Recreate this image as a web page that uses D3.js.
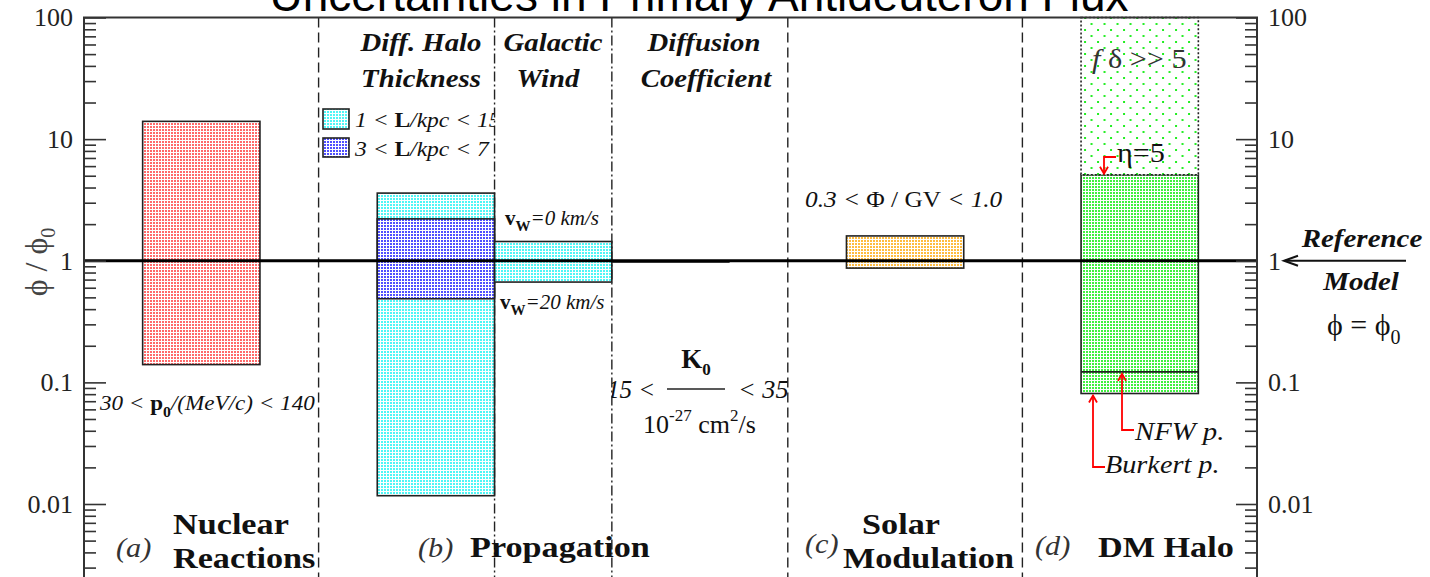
<!DOCTYPE html>
<html><head><meta charset="utf-8">
<script src="https://cdn.jsdelivr.net/npm/d3@7"></script>
<style>body{margin:0;background:#fff}svg{display:block}</style>
</head><body>
<svg id="c" width="1430" height="577"></svg>
<script>
// ---------------- DATA ----------------
const yMajorTicks = [0.01, 0.1, 1, 10, 100];
const yTickLabels = ["0.01", "0.1", "1", "10", "100"];
// uncertainty bands (x in category slot units 0..20)
const boxNames = ["Nuclear Reactions", "Halo 1<L<15", "Halo 3<L<7", "Galactic Wind",
                  "Diffusion Coefficient", "Solar Modulation", "DM Halo eta=5", "DM Halo f delta>>5"];
const boxX0 = [1, 5, 5, 7, 9, 13, 17, 17];
const boxX1 = [3, 7, 7, 9, 11, 15, 19, 19];
const boxLow = [0.14, 0.0117, 0.487, 0.668, 0.972, 0.87, 0.081, 5.1];
const boxHigh = [14, 3.6, 2.21, 1.44, 1.0, 1.6, 5.1, 100];
const nfwLevel = 0.122;       // NFW lower bound inside DM box
const separators = [4, 7, 9, 12, 16];
const referenceValue = 1;

// ---------------- STYLES ----------------
const SERIF = "'Liberation Serif','DejaVu Serif',serif";
const SANS = "'Liberation Sans',Arial,sans-serif";
const boxPattern = ["pRed", "pCyan", "pBlue", "pCyan", "solidBlack", "pOrange", "pGreen", "pGreenSparse"];
const sepDash = ["10,5", "10,3,2,3", "10,3,2,3", "10,5", "10,5"];

const svg = d3.select("#c");
svg.append("rect").attr("width", 1430).attr("height", 577).attr("fill", "#fff");

const x = d3.scaleLinear().domain([0, 20]).range([84, 1257]);
const y = d3.scaleLog().domain([0.01, 100]).range([504, 17.5]);
const yTop = y(100), yBot = 577;

// patterns
const defs = svg.append("defs");
function dotPattern(id, color, size, dot) {
  const p = defs.append("pattern").attr("id", id).attr("patternUnits", "userSpaceOnUse")
    .attr("width", size).attr("height", size);
  p.append("rect").attr("width", size).attr("height", size).attr("fill", "#fff");
  p.append("rect").attr("width", dot).attr("height", dot).attr("fill", color)
    .attr("shape-rendering", "crispEdges");
  return p;
}
dotPattern("pRed", "#ff6a6a", 3, 2);
dotPattern("pCyan", "#50f6f6", 3, 2);
dotPattern("pBlue", "#5050ff", 3, 2);
dotPattern("pGreen", "#40f040", 3, 2);
dotPattern("pOrange", "#ffbc40", 3, 2);
const ps = defs.append("pattern").attr("id", "pGreenSparse").attr("patternUnits", "userSpaceOnUse")
  .attr("width", 13).attr("height", 12).attr("x", x(17) + 3).attr("y", 5);
ps.append("rect").attr("width", 13).attr("height", 12).attr("fill", "#fff");
ps.append("rect").attr("width", 2).attr("height", 2).attr("fill", "#22ee22");
ps.append("rect").attr("x", 6.5).attr("y", 6).attr("width", 2).attr("height", 2).attr("fill", "#22ee22");

// clip paths per panel for texts
function clip(id, a, b) {
  defs.append("clipPath").attr("id", id).append("rect")
    .attr("x", x(a)).attr("y", 0).attr("width", x(b) - x(a)).attr("height", 577);
}
clip("cHalo", 4, 7); clip("cWind", 7, 9); clip("cDiff", 9, 12);

// ---------------- BOXES ----------------
const idx = d3.range(boxNames.length);
svg.append("g").selectAll("rect").data(idx).join("rect")
  .attr("x", i => x(boxX0[i]))
  .attr("y", i => y(boxHigh[i]))
  .attr("width", i => x(boxX1[i]) - x(boxX0[i]))
  .attr("height", i => y(boxLow[i]) - y(boxHigh[i]))
  .attr("fill", i => boxPattern[i] === "solidBlack" ? "#111" : `url(#${boxPattern[i]})`)
  .attr("stroke", "#222")
  .attr("stroke-width", i => boxPattern[i] === "solidBlack" ? 1 : 1.6)
  .attr("stroke-dasharray", i => boxPattern[i] === "pGreenSparse" ? "2,2" : null);

// NFW inner line
svg.append("line").attr("x1", x(17)).attr("x2", x(19)).attr("y1", y(nfwLevel)).attr("y2", y(nfwLevel))
  .attr("stroke", "#222").attr("stroke-width", 1.6);

// separators
svg.append("g").selectAll("line").data(separators).join("line")
  .attr("x1", d => x(d)).attr("x2", d => x(d)).attr("y1", yTop).attr("y2", yBot)
  .attr("stroke", "#222").attr("stroke-width", 1.4)
  .attr("stroke-dasharray", (d, i) => sepDash[i]);

// reference line
svg.append("line").attr("x1", x(0)).attr("x2", x(20)).attr("y1", y(referenceValue)).attr("y2", y(referenceValue))
  .attr("stroke", "#000").attr("stroke-width", 3);

// ---------------- AXES ----------------
const minorTicks = [];
for (let k = -3; k <= 1; k++) for (let m = 2; m <= 9; m++) {
  const v = m * Math.pow(10, k);
  if (v < 100 && y(v) < 580) minorTicks.push(v);
}
function styleAxis(g) {
  g.select(".domain").remove();
  g.selectAll("line").attr("stroke", "#333").attr("stroke-width", 1.6);
  g.selectAll("text").attr("font-family", SERIF).attr("font-size", 26).attr("fill", "#222");
}
svg.append("g").attr("transform", `translate(${x(0)},0)`)
  .call(d3.axisLeft(y).tickValues(minorTicks).tickSizeInner(-12).tickSizeOuter(0).tickFormat(""))
  .call(styleAxis);
svg.append("g").attr("transform", `translate(${x(0)},0)`)
  .call(d3.axisLeft(y).tickValues(yMajorTicks).tickSizeInner(-22).tickSizeOuter(0).tickPadding(11)
    .tickFormat((d, i) => yTickLabels[i]))
  .call(styleAxis);
svg.append("g").attr("transform", `translate(${x(20)},0)`)
  .call(d3.axisRight(y).tickValues(minorTicks).tickSizeInner(-12).tickSizeOuter(0).tickFormat(""))
  .call(styleAxis);
svg.append("g").attr("transform", `translate(${x(20)},0)`)
  .call(d3.axisRight(y).tickValues(yMajorTicks).tickSizeInner(-21).tickSizeOuter(0).tickPadding(11)
    .tickFormat((d, i) => yTickLabels[i]))
  .call(styleAxis);

// frame
const frame = svg.append("g").attr("stroke", "#333").attr("stroke-width", 2).attr("fill", "none");
frame.append("path").attr("d", `M${x(0)},${yBot}V${yTop}H${x(20)}V${yBot}`);

// ---------------- TEXT ----------------
function rich(xp, yp, segs, o = {}) {
  const t = svg.append("text")
    .attr("text-anchor", o.anchor || "start")
    .attr("font-family", o.family || SERIF).attr("font-size", o.size || 22)
    .attr("fill", o.fill || "#111");
  if (o.transform) t.attr("transform", o.transform);
  else t.attr("transform", `translate(${xp},${yp}) scale(${o.sx || 1},1)`);
  if (o.clip) {
    const g = svg.append("g").attr("clip-path", `url(#${o.clip})`);
    g.node().appendChild(t.node());
  }
  segs.forEach(s => {
    const sp = t.append("tspan").text(s.t);
    if (s.b) sp.attr("font-weight", "bold");
    if (s.i) sp.attr("font-style", "italic");
    if (s.dy) sp.attr("dy", s.dy);
    if (s.fs) sp.attr("font-size", s.fs);
  });
  return t;
}

// title
svg.append("text").attr("x", 699).attr("y", 11).attr("text-anchor", "middle")
  .attr("font-family", SANS).attr("font-size", 46).attr("fill", "#000")
  .text("Uncertainties in Primary Antideuteron Flux");

// y-axis label
rich(0, 0, [{t: "ϕ / ϕ"}, {t: "0", fs: 20, dy: 8}],
  {size: 32, anchor: "middle", fill: "#444", transform: "translate(47,262) rotate(-90)"});

// panel headers
const bi = {b: 1, i: 1};
const H = {anchor: "middle", size: 25, sx: 1.15};
rich(421, 51, [{t: "Diff. Halo", ...bi}], H);
rich(421, 87, [{t: "Thickness", ...bi}], H);
rich(553, 51, [{t: "Galactic", ...bi}], H);
rich(548, 87, [{t: "Wind", ...bi}], H);
rich(704, 51, [{t: "Diffusion", ...bi}], H);
rich(706, 87, [{t: "Coefficient", ...bi}], H);

// legend
svg.append("rect").attr("x", 323).attr("y", 109).attr("width", 26).attr("height", 20)
  .attr("fill", "url(#pCyan)").attr("stroke", "#222").attr("stroke-width", 1.6);
svg.append("rect").attr("x", 323).attr("y", 138).attr("width", 26).attr("height", 19)
  .attr("fill", "url(#pBlue)").attr("stroke", "#222").attr("stroke-width", 1.6);
rich(355, 127, [{t: "1 < ", i: 1}, {t: "L", b: 1}, {t: "/kpc < 15", i: 1}], {size: 22, sx: 1.07, clip: "cHalo"});
rich(355, 156, [{t: "3 < ", i: 1}, {t: "L", b: 1}, {t: "/kpc < 7", i: 1}], {size: 22, sx: 1.07, clip: "cHalo"});

// galactic wind
rich(505, 225, [{t: "v", b: 1}, {t: "W", b: 1, fs: 15, dy: 6}, {t: "=0 km/s", i: 1, dy: -6}], {size: 21, clip: "cWind"});
rich(500, 309, [{t: "v", b: 1}, {t: "W", b: 1, fs: 15, dy: 6}, {t: "=20 km/s", i: 1, dy: -6}], {size: 21, clip: "cWind"});

// nuclear
rich(100, 410, [{t: "30 < ", i: 1}, {t: "p", b: 1}, {t: "0", b: 1, fs: 15, dy: 7}, {t: "/(MeV/c) < 140", i: 1, dy: -7}], {size: 22, sx: 1.05});

// diffusion coefficient fraction
rich(607, 398, [{t: "15 <", i: 1}], {size: 25, clip: "cDiff"});
rich(738, 398, [{t: "< 35", i: 1}], {size: 25, sx: 1.05, clip: "cDiff"});
svg.append("line").attr("x1", 667).attr("x2", 725).attr("y1", 389).attr("y2", 389)
  .attr("stroke", "#222").attr("stroke-width", 1.5);
rich(696, 368, [{t: "K", b: 1}, {t: "0", b: 1, fs: 17, dy: 7}], {anchor: "middle", size: 27});
rich(643, 433, [{t: "10"}, {t: "-27", fs: 17, dy: -12}, {t: " cm", dy: 12}, {t: "2", fs: 17, dy: -12}, {t: "/s", dy: 12}], {size: 26});

// solar
rich(805, 207, [{t: "0.3 < ", i: 1}, {t: "Φ / GV"}, {t: " < 1.0", i: 1}], {size: 23, sx: 1.1});

// DM halo
rich(1092, 68, [{t: "f", i: 1}, {t: " δ >> 5"}], {size: 28, sx: 1.08, fill: "#333"});
rich(1117, 162, [{t: "η=5"}], {size: 27, sx: 1.12});
rich(1135, 440, [{t: "NFW p.", i: 1}], {size: 25, sx: 1.15});
rich(1105, 473, [{t: "Burkert p.", i: 1}], {size: 25, sx: 1.13});

const red = svg.append("g").attr("stroke", "#f00").attr("stroke-width", 1.8).attr("fill", "none");
red.append("path").attr("d", `M1116,157H1104V${y(5.1) - 1}`);
red.append("path").attr("d", `M1100,${y(5.1) - 8}L1104,${y(5.1) - 1}L1108,${y(5.1) - 8}`);
red.append("path").attr("d", `M1134,430H1122V${y(nfwLevel) + 2}`);
red.append("path").attr("d", `M1118,${y(nfwLevel) + 9}L1122,${y(nfwLevel) + 2}L1126,${y(nfwLevel) + 9}`);
red.append("path").attr("d", `M1105,467H1093V${y(boxLow[6]) + 2}`);
red.append("path").attr("d", `M1089,${y(boxLow[6]) + 9}L1093,${y(boxLow[6]) + 2}L1097,${y(boxLow[6]) + 9}`);

// reference model annotation
rich(1362, 247, [{t: "Reference", ...bi}], {anchor: "middle", size: 25, sx: 1.16});
rich(1361, 290, [{t: "Model", ...bi}], {anchor: "middle", size: 25, sx: 1.16});
rich(1327, 335, [{t: "ϕ = ϕ"}, {t: "0", fs: 20, dy: 9}], {size: 30});
const ar = svg.append("g").attr("stroke", "#111").attr("stroke-width", 2).attr("fill", "none");
ar.append("line").attr("x1", 1406).attr("x2", 1285).attr("y1", y(1)).attr("y2", y(1));
ar.append("path").attr("d", `M1298,${y(1) - 5}L1284,${y(1)}L1298,${y(1) + 5}`);

// bottom panel labels
const B = {size: 30, sx: 1.14};
rich(116, 557, [{t: "(a)", i: 1}], {size: 28, sx: 1.08, fill: "#333"});
rich(173, 534, [{t: "Nuclear", b: 1}], B);
rich(173, 568, [{t: "Reactions", b: 1}], B);
rich(418, 557, [{t: "(b)", i: 1}], {size: 28, sx: 1.08, fill: "#333"});
rich(470, 557, [{t: "Propagation", b: 1}], B);
rich(805, 553, [{t: "(c)", i: 1}], {size: 28, sx: 1.08, fill: "#333"});
rich(901, 534, [{t: "Solar", b: 1}], {...B, anchor: "middle"});
rich(843, 568, [{t: "Modulation", b: 1}], B);
rich(1035, 555, [{t: "(d)", i: 1}], {size: 28, sx: 1.08, fill: "#333"});
rich(1098, 557, [{t: "DM Halo", b: 1}], B);
</script>
</body></html>
